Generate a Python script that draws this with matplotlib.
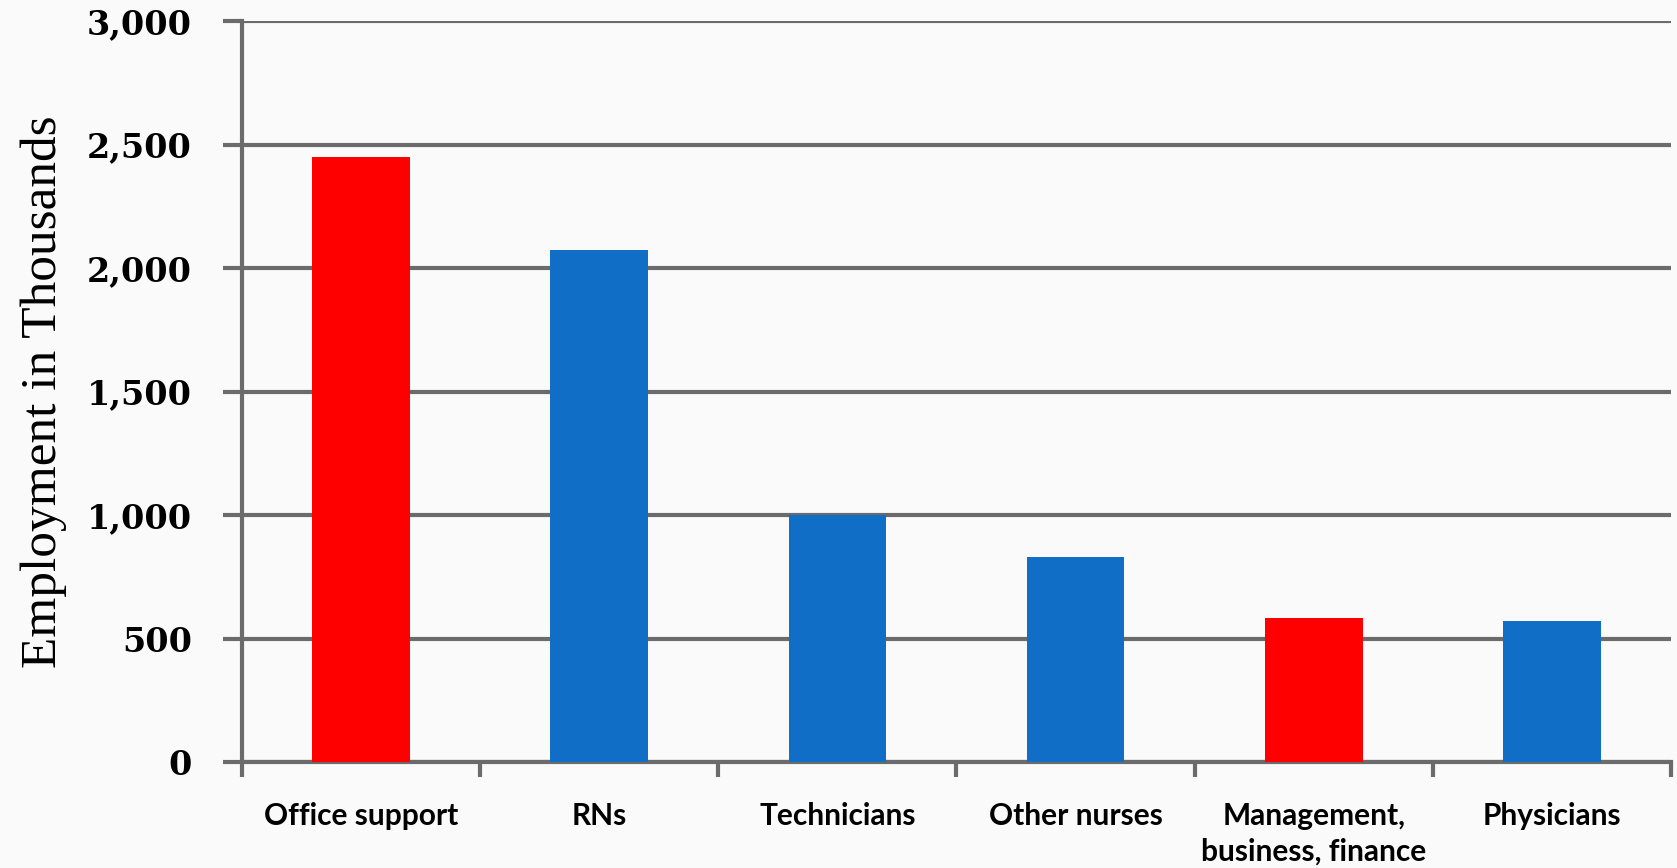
#!/usr/bin/env python3
# coding=utf-8
import matplotlib
matplotlib.use('Agg')
import matplotlib.pyplot as plt
from matplotlib.ticker import FuncFormatter

categories = ['Office support', 'RNs', 'Technicians', 'Other nurses',
              'Management,\nbusiness, finance', 'Physicians']
employment = [2448, 2074, 1001, 828, 585, 570]
bar_colors = ['#ff0000', '#106ec6', '#106ec6', '#106ec6', '#ff0000', '#106ec6']
y_ticks = [0, 500, 1000, 1500, 2000, 2500, 3000]

grid_color = '#6b6b6b'

fig = plt.figure(figsize=(16.77, 8.68), dpi=100)
fig.patch.set_facecolor('#fafafa')
ax = fig.add_axes([0.1443, 0.1221, 0.8521, 0.8537])
ax.set_facecolor('#fafafa')

x = list(range(len(categories)))
ax.bar(x, employment, width=0.41, color=bar_colors, zorder=3)

ax.set_xlim(-0.5, len(categories) - 0.5)
ax.set_ylim(0, 3000)

ax.set_yticks(y_ticks)
ax.yaxis.set_major_formatter(FuncFormatter(lambda v, p: '{:,.0f}'.format(v)))
ax.grid(axis='y', color=grid_color, linewidth=3, zorder=1)
ax.set_axisbelow(True)

ax.set_xticks(x)
ax.set_xticklabels(categories, family=['Lato', 'DejaVu Sans'],
                   fontsize=21.5, fontweight='bold', linespacing=1.3)
ax.set_xticks([i - 0.5 for i in range(len(categories) + 1)], minor=True)
ax.tick_params(axis='x', which='major', length=0, pad=29)
ax.tick_params(axis='x', which='minor', length=11, width=3, color=grid_color)
ax.tick_params(axis='y', length=14, width=3, color=grid_color, pad=22)
for lbl in ax.get_yticklabels():
    lbl.set_family('DejaVu Serif')
    lbl.set_fontweight('bold')
    lbl.set_fontsize(24)

for side in ['top', 'right']:
    ax.spines[side].set_visible(False)
for side in ['left', 'bottom']:
    ax.spines[side].set_color(grid_color)
    ax.spines[side].set_linewidth(3)

ax.set_ylabel('Employment in Thousands', family='Liberation Serif',
              fontsize=37, labelpad=14)

fig.savefig('out.png', dpi=100, facecolor=fig.get_facecolor())
